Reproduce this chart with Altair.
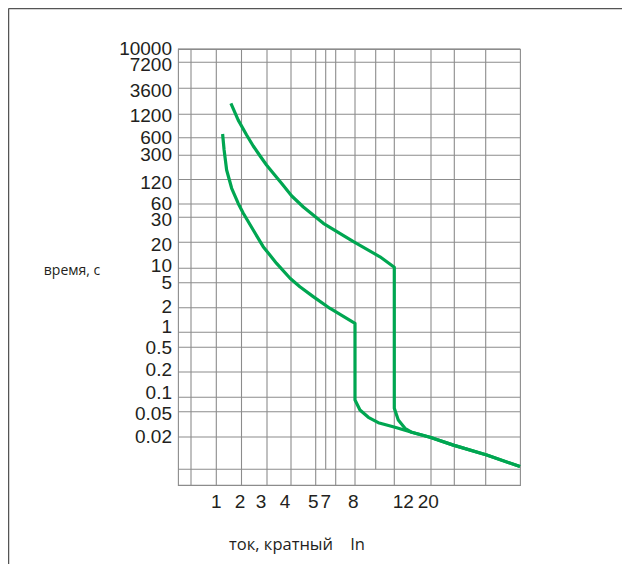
import altair as alt
import pandas as pd

# ---- axis values ----
y_ticks = [10000, 7200, 3600, 1200, 600, 300, 120, 60, 30, 20, 10, 5, 2, 1, 0.5, 0.2, 0.1, 0.05, 0.02]
y_extra_rows = [0.01, 0.005]          # unlabeled bottom row and bottom edge
x_grid = [0, 0.5, 1, 2, 3, 4, 5, 7, 7.5, 8, 10, 12, 20, 30, 50, 100]
x_labels = [1, 2, 3, 4, 5, 7, 8, 12, 20]
x_short_lines = [7, 10]               # vertical lines that stop above the last row

# ---- tripping curves (multiple of In, time in s) ----
upper_x = [1.58, 1.87, 2.2, 2.46, 2.73, 2.98, 3.26, 3.63, 4.03, 4.5, 6.52, 7.96, 10.46, 12, 12,
           12.87, 14.33, 15.79, 19.78, 29.6, 51.5, 100]
upper_t = [1910, 1010, 650, 433, 292, 208, 152, 105.6, 75.3, 51.3, 27.2, 20.2, 13.6, 10.3, 0.059,
           0.037, 0.0274, 0.0237, 0.0199, 0.0168, 0.0136, 0.0106]
lower_x = [1.25, 1.31, 1.41, 1.61, 1.87, 2.07, 2.46, 2.85, 3.4, 3.96, 4.36, 4.9, 7.2, 8, 8,
           8.48, 9.29, 10.28, 12.15, 15.79, 19.78, 29.6, 51.5, 100]
lower_t = [670, 370, 172, 93.6, 61, 37, 24.4, 17.8, 11.4, 6.18, 4.32, 3.0, 1.97, 1.29, 0.0878,
           0.0543, 0.0408, 0.0336, 0.0284, 0.0237, 0.0199, 0.0168, 0.0136, 0.0106]

# ---- layout / style (irregular grid of the original drawing) ----
W, H = 342, 436
x_px = [0, 13, 38.3, 63.5, 89, 113, 137.7, 147.7, 157.7, 177, 197.7, 216.3, 253, 276.3, 307.7, 342]
y_dom = sorted(y_ticks + y_extra_rows)
y_px_abs = [485, 469.3, 437, 411.7, 397.3, 372, 347.3, 332.3, 307.7, 282.7, 268.3, 242.3,
            217.3, 204, 179.5, 155.3, 137.7, 114.3, 88.3, 62.3, 49]
y_px = [v - 49 for v in y_px_abs]
# small typographic nudges of tick labels, as in the drawing (pixels)
Y_NUDGE = {7200: 3, 3600: 2.5, 1200: 1.5, 120: 3, 30: 2.7, 20: 3, 10: -2, 2: -1, 1: -5.5,
           0.5: 1, 0.2: -2, 0.1: -4, 0.05: 2.3}
X_NUDGE = {2: -1.5, 3: -6, 4: -6, 5: -2.5, 8: -1.7, 12: 9, 20: -2.7}

xs = alt.Scale(type="linear", domain=x_grid, range=x_px, nice=False, zero=False)
ys = alt.Scale(type="log", domain=y_dom, range=y_px, nice=False)

GRID = "#8c8c8c"
TXT = "#231f20"
GREEN = "#00a651"
LABEL_FONT = "Liberation Sans"

hgrid = pd.DataFrame({"t": y_ticks + [0.01]})
vlines = [v for v in x_grid[1:-1]]
vgrid = pd.DataFrame({
    "x": vlines,
    "top": [10000] * len(vlines),
    "bot": [0.01 if v in x_short_lines else 0.005 for v in vlines],
})
curves = pd.concat([
    pd.DataFrame({"series": "upper", "i": range(len(upper_x)), "x": upper_x, "t": upper_t}),
    pd.DataFrame({"series": "lower", "i": range(len(lower_x)), "x": lower_x, "t": lower_t}),
])
ylab = pd.DataFrame({"t": y_ticks, "label": [str(v) for v in y_ticks]})
ylab["nudge"] = [Y_NUDGE.get(v, 0) for v in y_ticks]
xlab = pd.DataFrame({"x": x_labels, "label": [str(v) for v in x_labels]})
xlab["nudge"] = [X_NUDGE.get(v, 0) for v in x_labels]
one = pd.DataFrame({"k": [0]})

h_rules = alt.Chart(hgrid).mark_rule(color=GRID, strokeWidth=1.1).encode(
    y=alt.Y("t:Q", scale=ys, axis=None)
)
v_rules = alt.Chart(vgrid).mark_rule(color=GRID, strokeWidth=1.1).encode(
    x=alt.X("x:Q", scale=xs, axis=None),
    y=alt.Y("top:Q", scale=ys, axis=None),
    y2="bot:Q",
)
lines = alt.Chart(curves).mark_line(
    color=GREEN, strokeWidth=3.2, strokeJoin="round", strokeCap="butt"
).encode(
    x=alt.X("x:Q", scale=xs, axis=None),
    y=alt.Y("t:Q", scale=ys, axis=None),
    detail="series:N",
    order="i:Q",
)

y_text_layers = []
for nd in sorted(set(ylab["nudge"])):
    y_text_layers.append(
        alt.Chart(ylab[ylab["nudge"] == nd]).mark_text(
            align="right", baseline="middle", font=LABEL_FONT, fontSize=19, color=TXT, dy=nd
        ).encode(
            x=alt.value(-6),
            y=alt.Y("t:Q", scale=ys, axis=None),
            text="label:N",
        )
    )
x_text_layers = []
for nd in sorted(set(xlab["nudge"])):
    x_text_layers.append(
        alt.Chart(xlab[xlab["nudge"] == nd]).mark_text(
            align="center", baseline="middle", font=LABEL_FONT, fontSize=19, color=TXT, dx=nd
        ).encode(
            x=alt.X("x:Q", scale=xs, axis=None),
            y=alt.value(H + 17),
            text="label:N",
        )
    )

y_title = alt.Chart(one).mark_text(
    align="center", baseline="alphabetic", font="Open Sans", fontSize=14, color=TXT,
    text="время, с",
).encode(x=alt.value(-106), y=alt.value(226))
x_title = alt.Chart(one).mark_text(
    align="center", baseline="alphabetic", font="Open Sans", fontSize=16.5, color=TXT,
    text="ток, кратный\u00a0\u00a0\u00a0\u00a0In",
).encode(x=alt.value(119), y=alt.value(501))
frame_top = alt.Chart(one).mark_rule(color="#555555", strokeWidth=1.5).encode(
    x=alt.value(-169.5), x2=alt.value(444), y=alt.value(-40.5)
)
frame_left = alt.Chart(one).mark_rule(color="#555555", strokeWidth=1.5).encode(
    x=alt.value(-169.5), y=alt.value(-40.5), y2=alt.value(520)
)

chart = alt.layer(
    h_rules, v_rules, lines, *y_text_layers, *x_text_layers, y_title, x_title,
    frame_top, frame_left
).properties(
    width=W, height=H,
    autosize=alt.AutoSizeParams(type="none"),
    padding={"left": 170, "top": 41, "right": 102, "bottom": 79},
    background="white",
).configure_view(stroke=GRID, strokeWidth=1.1)

chart.save("out.html", embed_options={"renderer": "svg", "actions": False})
